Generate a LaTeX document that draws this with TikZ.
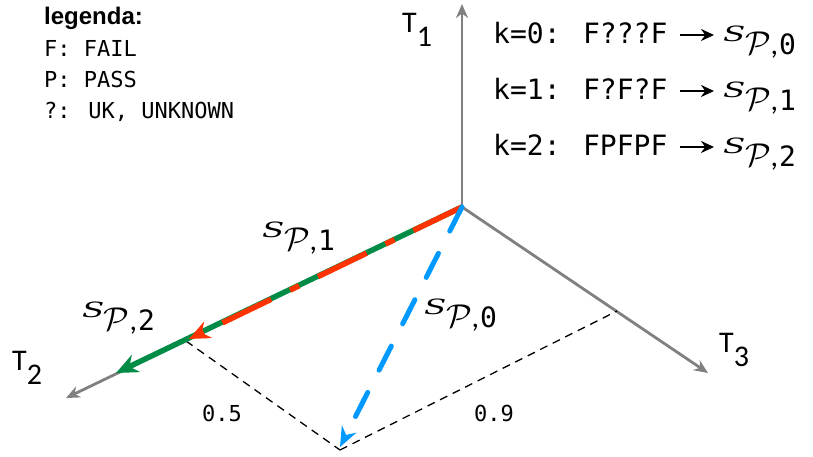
\RequirePackage{fix-cm}
\documentclass[tikz,border=0pt]{standalone}
\usepackage{graphicx}
\usepackage{fontspec}
\setmainfont{Carlito}
\newfontfamily\monof{DejaVu Sans Mono}
\newfontfamily\arialf{Liberation Sans}
\newfontfamily\serifit{DejaVu Serif}
\usetikzlibrary{arrows.meta}
\definecolor{axgray}{RGB}{128,128,128}
\definecolor{pgreen}{RGB}{0,140,70}
\definecolor{pred}{RGB}{255,51,0}
\definecolor{pblue}{RGB}{0,153,255}
\tikzset{
  axis/.style={draw=axgray, line width=2.8pt, -{Stealth[length=14pt,width=12pt]}},
  guide/.style={draw=black, line width=1.3pt, dash pattern=on 8pt off 6pt},
  tlbl/.style={inner sep=0pt, anchor=base west, font=\fontsize{30}{34}\selectfont},
  mono/.style={inner sep=0pt, anchor=base west, font=\monof\fontsize{28}{32}\selectfont},
  legmono/.style={inner sep=0pt, anchor=base west, font=\monof\fontsize{22}{26}\selectfont},
  num/.style={inner sep=0pt, font=\monof\fontsize{22}{26}\selectfont},
  kline/.style={draw=black, line width=2.2pt, -{Stealth[length=13pt,width=12pt]}},
  smath/.style={inner sep=0pt, anchor=base west},
}
\newcommand{\SP}[1]{{\serifit\itshape\fontsize{21}{24}\selectfont\scalebox{1.55}[1]{S}\kern-0.5pt\raisebox{-13pt}{\fontsize{33}{38}\selectfont$\mathcal{P}$\normalfont\fontsize{30}{34}\selectfont,\kern1pt{\monof\fontsize{28}{32}\selectfont #1}}}}
\begin{document}
\begin{tikzpicture}[x=1pt,y=-1pt]
\useasboundingbox (0,0) rectangle (813,457);
% points
\coordinate (O) at (462,207);
\coordinate (T1e) at (462,4);
\coordinate (T2e) at (66,398);
\coordinate (T3e) at (708,373);
\coordinate (p2) at (186,341);
\coordinate (p3) at (617,311);
\coordinate (B) at (340,450);
\coordinate (G) at (116,373);
\coordinate (R) at (189,339);
\coordinate (Bl) at (340,447);
% axes
\draw[axis] (O) -- (T1e);
\draw[axis] (O) -- (T2e);
\draw[axis] (O) -- (T3e);
% guides
\draw[guide] (p2) -- (B);
\draw[guide] (B) -- (p3);
% vectors
\draw[draw=pgreen, line width=5.5pt, -{Stealth[length=22pt,width=19pt]}] (O) -- (G);
\draw[draw=pred, line width=5.5pt, dash pattern=on 54pt off 21pt on 10pt off 21pt, -{Stealth[length=21pt,width=18pt]}] (O) -- (R);
\draw[draw=pblue, line width=5pt, line cap=round, dash pattern=on 27pt off 25pt, -{Stealth[length=20pt,width=16pt]}] (O) -- (Bl);
% axis labels
\node[tlbl] (L1) at (402,33) {T\raisebox{-14pt}{1}};
\node[tlbl] (L2) at (12,370) {T\raisebox{-14pt}{2}};
\node[tlbl] (L3) at (719,352) {T\raisebox{-14pt}{3}};
% vector labels
\node[smath] (s1) at (262,237) {\SP{1}};
\node[smath] (s2) at (82,317) {\SP{2}};
\node[smath] (s0) at (424,314) {\SP{0}};
\node[num] (n5) at (222,413) {0.5};
\node[num] (n9) at (494,413) {0.9};
% legend
\node[inner sep=0pt, anchor=base west, font=\arialf\bfseries\fontsize{24}{28}\selectfont] (leg) at (44,25) {legenda:};
\node[legmono] (lf) at (44,57) {F: FAIL};
\node[legmono] (lp) at (44,88) {P: PASS};
\node[legmono] (lu) at (44,119) {?: UK, UNKNOWN};
% k lines
\node[mono] (k0) at (493,44) {k=0: F???F};
\node[mono] (k1) at (493,100) {k=1: F?F?F};
\node[mono] (k2) at (493,156) {k=2: FPFPF};
\node[smath] (r0) at (723,42) {\SP{0}};
\node[smath] (r1) at (723,98) {\SP{1}};
\node[smath] (r2) at (723,154) {\SP{2}};
\draw[kline] ([xshift=12pt,yshift=9pt]k0.base east) -- ([xshift=-9pt,yshift=7pt]r0.base west);
\draw[kline] ([xshift=12pt,yshift=9pt]k1.base east) -- ([xshift=-9pt,yshift=7pt]r1.base west);
\draw[kline] ([xshift=12pt,yshift=9pt]k2.base east) -- ([xshift=-9pt,yshift=7pt]r2.base west);
\end{tikzpicture}
\end{document}
